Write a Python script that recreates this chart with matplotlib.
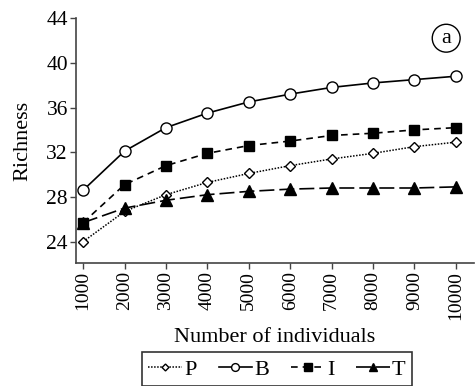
import numpy as np
import matplotlib
matplotlib.use("Agg")
import matplotlib.pyplot as plt

plt.rcParams['font.family'] = ['Liberation Serif', 'DejaVu Serif']

n_ind = [1000, 2000, 3000, 4000, 5000, 6000, 7000, 8000, 9000, 10000]
rich_P = [24.0, 26.7, 28.2, 29.3, 30.1, 30.8, 31.4, 31.9, 32.5, 32.9]
rich_B = [28.6, 32.1, 34.2, 35.5, 36.5, 37.2, 37.8, 38.2, 38.5, 38.8]
rich_I = [25.7, 29.1, 30.8, 31.9, 32.6, 33.0, 33.5, 33.7, 34.0, 34.2]
rich_T = [25.7, 27.0, 27.7, 28.2, 28.5, 28.7, 28.8, 28.8, 28.8, 28.9]
yticks = [24, 28, 32, 36, 40, 44]

fig = plt.figure(figsize=(4.76, 3.86), dpi=100)
ax = fig.add_axes([0.160, 0.319, 0.835, 0.634])

ax.plot(n_ind, rich_P, color='black', lw=1.1, ls=(0, (1, 1)), marker='D', ms=5,
        mfc='white', mec='black', mew=1.0, label='P', zorder=3)
ax.plot(n_ind, rich_B, color='black', lw=1.2, ls='-', marker='o', ms=8,
        mfc='white', mec='black', mew=1.0, label='B', zorder=3)
ax.plot(n_ind, rich_I, color='black', lw=1.2, ls=(0, (4, 3)), marker='s', ms=7.5,
        mfc='black', mec='black', label='I', zorder=4)
ax.plot(n_ind, rich_T, color='black', lw=1.2, ls=(0, (9, 3)), marker='^', ms=8,
        mfc='black', mec='black', label='T', zorder=4)

ax.set_xlim(832, 10430)
ax.set_ylim(22.1, 44)
ax.set_yticks(yticks)
ax.set_xticks(n_ind)
ax.set_xticklabels([str(v) for v in n_ind], rotation=90)
ax.tick_params(axis='y', labelsize=15.5)
ax.tick_params(axis='x', labelsize=14)
ax.tick_params(direction='out', length=4, width=1, color='#444444', pad=2)
for s in ['top', 'right']:
    ax.spines[s].set_visible(False)
for s in ['left', 'bottom']:
    ax.spines[s].set_linewidth(1.2)
    ax.spines[s].set_color('#444444')

ax.set_ylabel('Richness', fontsize=16, labelpad=10)
ax.set_xlabel('Number of individuals', fontsize=16, labelpad=6)

ax.text(0.931, 0.918, 'a', transform=ax.transAxes, fontsize=16, ha='center', va='center',
        bbox=dict(boxstyle='circle,pad=0.2', fc='white', ec='black', lw=1.0))

leg = fig.legend(loc='center', bbox_to_anchor=(0.582, 0.043), ncol=4, fontsize=16,
                 frameon=True, fancybox=False, edgecolor='black', handlelength=1.5,
                 handletextpad=0.1, columnspacing=1.0, borderpad=0.3, markerscale=0.7)
leg.get_frame().set_linewidth(1.2)

fig.savefig('out.png', dpi=100)
